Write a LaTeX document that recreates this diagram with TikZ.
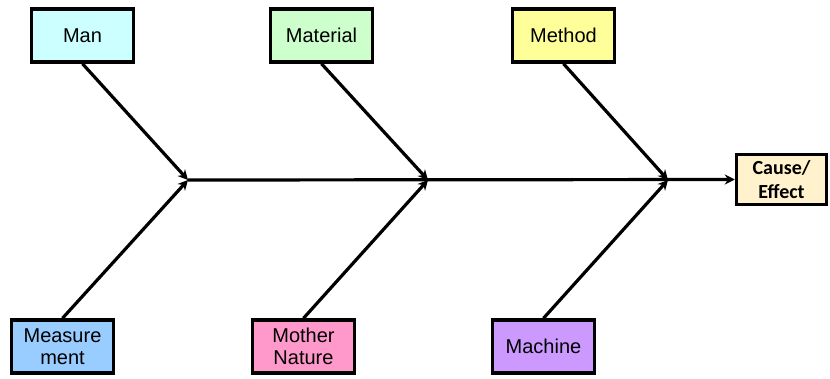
\documentclass[tikz,border=0pt]{standalone}
\usepackage{fontspec}
\setmainfont{Liberation Sans}
\newfontfamily\effectfont{Carlito}
\usetikzlibrary{arrows.meta}
\newdimen\pxunit
\setlength{\pxunit}{0.75pt}
\definecolor{manfill}{HTML}{CCFFFF}
\definecolor{matfill}{HTML}{CCFFCC}
\definecolor{methfill}{HTML}{FFFF99}
\definecolor{measfill}{HTML}{99CCFF}
\definecolor{natfill}{HTML}{FF99CC}
\definecolor{machfill}{HTML}{CC99FF}
\definecolor{efffill}{HTML}{FFF2CC}

\begin{document}
\begin{tikzpicture}[x=\pxunit,y=-\pxunit,box/.style={rectangle,draw,line width=3.5\pxunit,minimum width=102\pxunit,minimum height=53\pxunit,inner sep=0,align=center,font=\fontsize{15}{16.5}\selectfont},wire/.style={draw,line width=3.2\pxunit,-{Stealth[length=7.5pt,width=7.5pt]}}]
  \useasboundingbox (0,0) rectangle (830,378);
  \node[box,fill=manfill] (man) at (82.5,35.5) {Man};
  \node[box,fill=matfill] (mat) at (321.5,35.5) {Material};
  \node[box,fill=methfill] (meth) at (563.5,35.5) {Method};
  \node[box,fill=measfill] (meas) at (62.5,346.5) {Measure\\ment};
  \node[box,fill=natfill] (nat) at (303.5,346.5) {Mother\\Nature};
  \node[box,fill=machfill] (mach) at (543.5,346.5) {Machine};
  \node[box,fill=efffill,minimum width=90\pxunit,minimum height=50\pxunit,font=\effectfont\bfseries\fontsize{15}{18.5}\selectfont] (eff) at (781.5,179.5) {Cause/\\Effect};
  \coordinate (j1) at (188,180);
  \coordinate (j2) at (428,180);
  \coordinate (j3) at (668,180);
  \path[wire] (man.south) -- (j1);
  \path[wire] (meas.north) -- (j1);
  \path[wire] (mat.south) -- (j2);
  \path[wire] (nat.north) -- (j2);
  \path[wire] (meth.south) -- (j3);
  \path[wire] (mach.north) -- (j3);
  \path[wire] (j1) -- (eff.west);
\end{tikzpicture}
\end{document}
